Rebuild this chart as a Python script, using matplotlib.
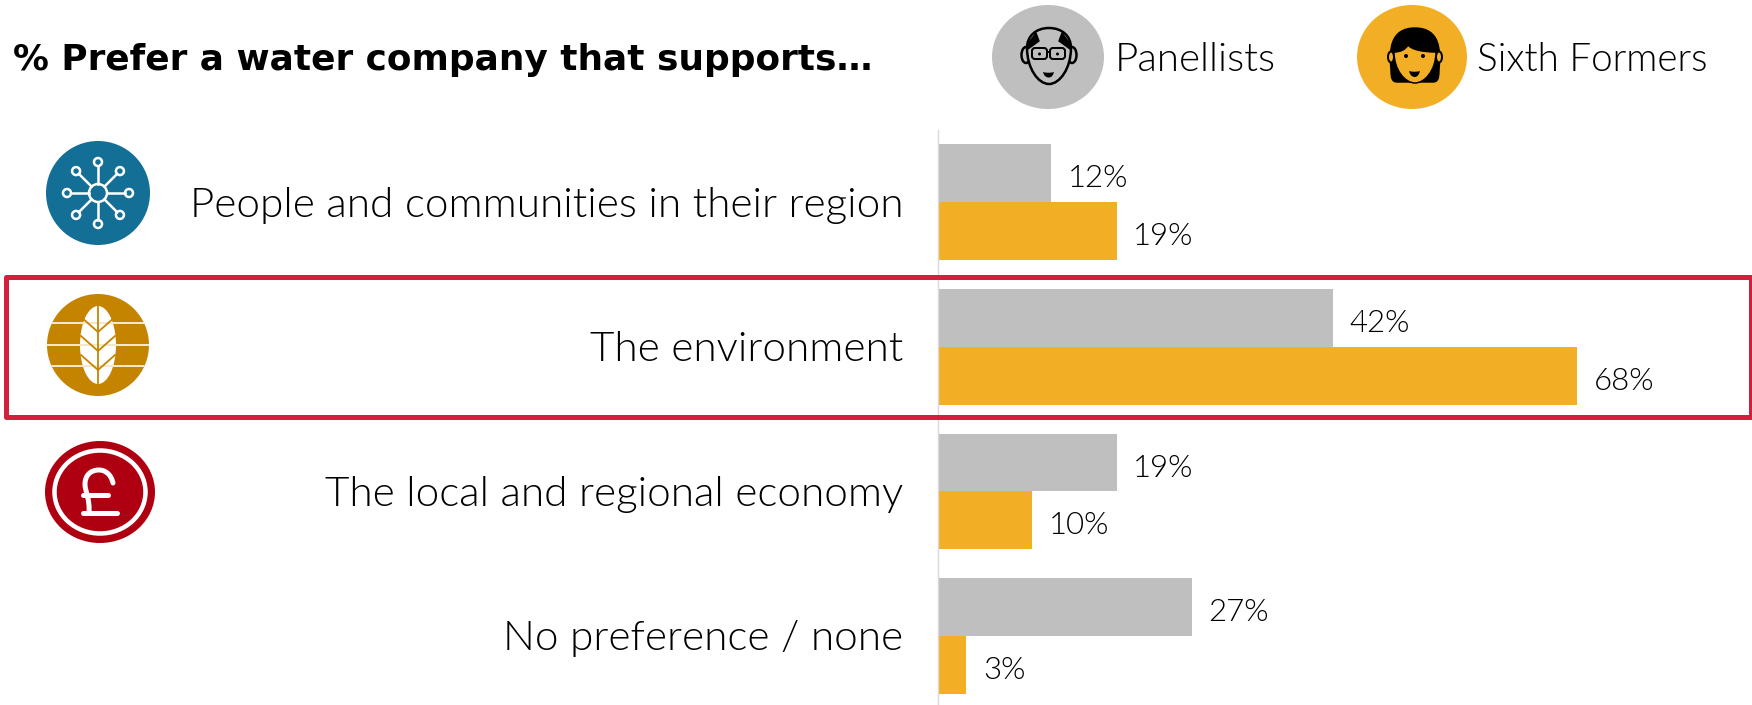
import numpy as np
import matplotlib
matplotlib.use("Agg")
import matplotlib.pyplot as plt
from matplotlib import font_manager as fm
from matplotlib.patches import Ellipse, Circle, Rectangle, Polygon, PathPatch, FancyBboxPatch
from matplotlib.path import Path

categories = ["People and communities in their region", "The environment",
              "The local and regional economy", "No preference / none"]
panellists = [12, 42, 19, 27]
sixth_formers = [19, 68, 10, 3]
title = "% Prefer a water company that supports…"
series_names = ["Panellists", "Sixth Formers"]

GREY = "#BFBFBF"
ORANGE = "#F2AF26"
BLUE = "#136F95"
GOLD = "#C48400"
RED = "#AE0011"
BOX = "#D21F3C"
W, H = 1752, 705


def lato_light():
    # pick the Light cut by file, the weight lookup lands on Hairline
    for f in fm.fontManager.ttflist:
        if f.fname.endswith("Lato-Light.ttf"):
            return f.fname
    return None


light_file = lato_light()


def light(size):
    if light_file:
        return fm.FontProperties(fname=light_file, size=size)
    return fm.FontProperties(family="Lato", size=size)


def px(v):
    return v * 72 / 100


def curve(points):
    # first point, then three points per bezier segment
    codes = [Path.MOVETO] + [Path.CURVE4] * (len(points) - 1)
    return Path(points, codes)


fig = plt.figure(figsize=(W / 100, H / 100), dpi=100, facecolor="white")

# bars
ax = fig.add_axes([938 / W, 0, (W - 938) / W, (H - 130) / H])
y = np.arange(len(categories))
ax.barh(y - 0.2, panellists, height=0.4, color=GREY)
ax.barh(y + 0.2, sixth_formers, height=0.4, color=ORANGE)
ax.set_xlim(0, (W - 938) / 9.4)
ax.set_ylim(-0.5 + (H - 130) / 144.6, -0.5)
ax.set_xticks([])
ax.set_yticks([])
for s in ["top", "right", "bottom"]:
    ax.spines[s].set_visible(False)
ax.spines["left"].set_color("#D9D9D9")
ax.spines["left"].set_linewidth(1.0)
for i in y:
    ax.annotate(f"{panellists[i]}%", (panellists[i], i - 0.2), xytext=(12, -4),
                textcoords="offset points", va="center", fontproperties=light(22.5), color="black")
    ax.annotate(f"{sixth_formers[i]}%", (sixth_formers[i], i + 0.2), xytext=(12, -4),
                textcoords="offset points", va="center", fontproperties=light(22.5), color="black")

# everything else lives on an overlay in pixel units
ov = fig.add_axes([0, 0, 1, 1])
ov.set_xlim(0, W)
ov.set_ylim(H, 0)
ov.axis("off")
ov.patch.set_alpha(0)

ov.text(13, 60, title, fontsize=25.8, fontweight="bold", family="DejaVu Sans", va="center", color="black")
ov.text(1115, 60, series_names[0], fontproperties=light(29), va="center", color="black")
ov.text(1477, 60, series_names[1], fontproperties=light(27.8), va="center", color="black")

for i, label in enumerate(categories):
    ov.text(903, 205 + i * 144.6, label, fontproperties=light(30.4), ha="right", va="center", color="black")

ov.add_patch(Rectangle((6, 277), 1745, 140, fill=False, ec=BOX, lw=px(5), joinstyle="round"))

# network icon
cx, cy = 98, 193
ov.add_patch(Circle((cx, cy), 52, fc=BLUE, ec="none"))
for a in np.arange(8) * np.pi / 4:
    dx, dy = np.cos(a), np.sin(a)
    ov.plot([cx + 9 * dx, cx + 27 * dx], [cy + 9 * dy, cy + 27 * dy], color="white", lw=px(2.5))
    ov.add_patch(Circle((cx + 31 * dx, cy + 31 * dy), 4, fc=BLUE, ec="white", lw=px(2.5)))
ov.add_patch(Circle((cx, cy), 9, fc=BLUE, ec="white", lw=px(2.5)))

# leaf icon
cx, cy = 98, 345
disc = Circle((cx, cy), 51, fc=GOLD, ec="none")
ov.add_patch(disc)
for ly in [323, 345, 366]:
    ln, = ov.plot([cx - 52, cx + 52], [ly, ly], color="#F6E7C8", lw=px(2))
    ln.set_clip_path(disc)
ov.add_patch(Ellipse((cx, cy), 36, 78, fc="white", ec="none"))
ov.plot([cx, cx], [307, 383], color=GOLD, lw=px(1.8))
for vy in [332, 351, 370]:
    ov.plot([cx - 17, cx, cx + 17], [vy - 15, vy, vy - 15], color=GOLD, lw=px(1.8))

# pound icon
cx, cy = 100, 492
ov.add_patch(Ellipse((cx, cy), 110, 102, fc=RED, ec="none"))
ov.add_patch(Ellipse((cx, cy), 91, 83, fc="none", ec="white", lw=px(4.5)))
stroke = dict(fc="none", ec="white", lw=px(5), capstyle="round")
ov.add_patch(PathPatch(curve([(113, 483), (111, 474), (105, 470), (99, 470),
                              (90, 470), (85, 476), (85, 484),
                              (85, 492), (90, 498), (89, 513)]), **stroke))
ov.plot([83, 117], [513, 513], color="white", lw=px(5), solid_capstyle="round")
ov.plot([83, 108], [495, 495], color="white", lw=px(5), solid_capstyle="round")

# panellist face
ov.add_patch(Ellipse((1048, 57), 112, 104, fc=GREY, ec="none"))
ov.add_patch(Ellipse((1026, 55), 9, 16, fc=GREY, ec="black", lw=px(2.5)))
ov.add_patch(Ellipse((1072, 55), 9, 16, fc=GREY, ec="black", lw=px(2.5)))
ov.add_patch(PathPatch(curve([(1027, 48), (1027, 68), (1038, 84), (1049, 84),
                              (1060, 84), (1071, 68), (1071, 48),
                              (1071, 36), (1062, 28), (1049, 28),
                              (1036, 28), (1027, 36), (1027, 48)]),
                       fc=GREY, ec="black", lw=px(2.5)))
ov.add_patch(Polygon([(1036, 33), (1027, 45), (1028, 49), (1039, 41)], fc="black", ec="black"))
ov.add_patch(Polygon([(1062, 33), (1071, 45), (1070, 49), (1059, 41)], fc="black", ec="black"))
for lx in [1032, 1050]:
    ov.add_patch(FancyBboxPatch((lx + 2, 50), 11, 7, boxstyle="round,pad=2,rounding_size=3",
                                fc=GREY, ec="black", lw=px(2)))
    ov.add_patch(Circle((lx + 7.5, 54), 1.5, fc="black", ec="none"))
ov.plot([1047, 1050], [52, 52], color="black", lw=px(2))
ov.add_patch(PathPatch(curve([(1043, 72), (1046, 73), (1051, 73), (1054, 72),
                              (1053, 76), (1051, 77.5), (1049, 77.5),
                              (1046, 77.5), (1044, 76), (1043, 72)]), fc="black", ec="none"))

# sixth former face
ov.add_patch(Ellipse((1412, 57), 110, 104, fc=ORANGE, ec="none"))
ov.add_patch(PathPatch(curve([(1397, 82), (1392, 82), (1391, 78), (1391, 70),
                              (1389, 50), (1390, 28), (1415, 28),
                              (1440, 28), (1441, 50), (1439, 70),
                              (1439, 78), (1438, 82), (1433, 82),
                              (1420, 82), (1410, 82), (1397, 82)]), fc="black", ec="black"))
ov.add_patch(Ellipse((1391, 57), 6, 11, fc=ORANGE, ec="black", lw=px(2)))
ov.add_patch(Ellipse((1439, 57), 6, 11, fc=ORANGE, ec="black", lw=px(2)))
ov.add_patch(PathPatch(curve([(1408, 45), (1405, 50), (1400, 52), (1394, 52),
                              (1394, 70), (1405, 83), (1415, 83),
                              (1425, 83), (1436, 70), (1436, 52),
                              (1424, 52), (1412, 50), (1408, 45)]),
                       fc=ORANGE, ec="black", lw=px(1.5)))
ov.add_patch(Circle((1406, 56), 2, fc="black", ec="none"))
ov.add_patch(Circle((1423, 56), 2, fc="black", ec="none"))
ov.add_patch(PathPatch(curve([(1409, 71), (1412, 72), (1417, 72), (1420, 71),
                              (1419, 75), (1417, 77), (1415, 77),
                              (1412, 77), (1410, 75), (1409, 71)]), fc="black", ec="none"))

fig.savefig("out.png", dpi=100)
